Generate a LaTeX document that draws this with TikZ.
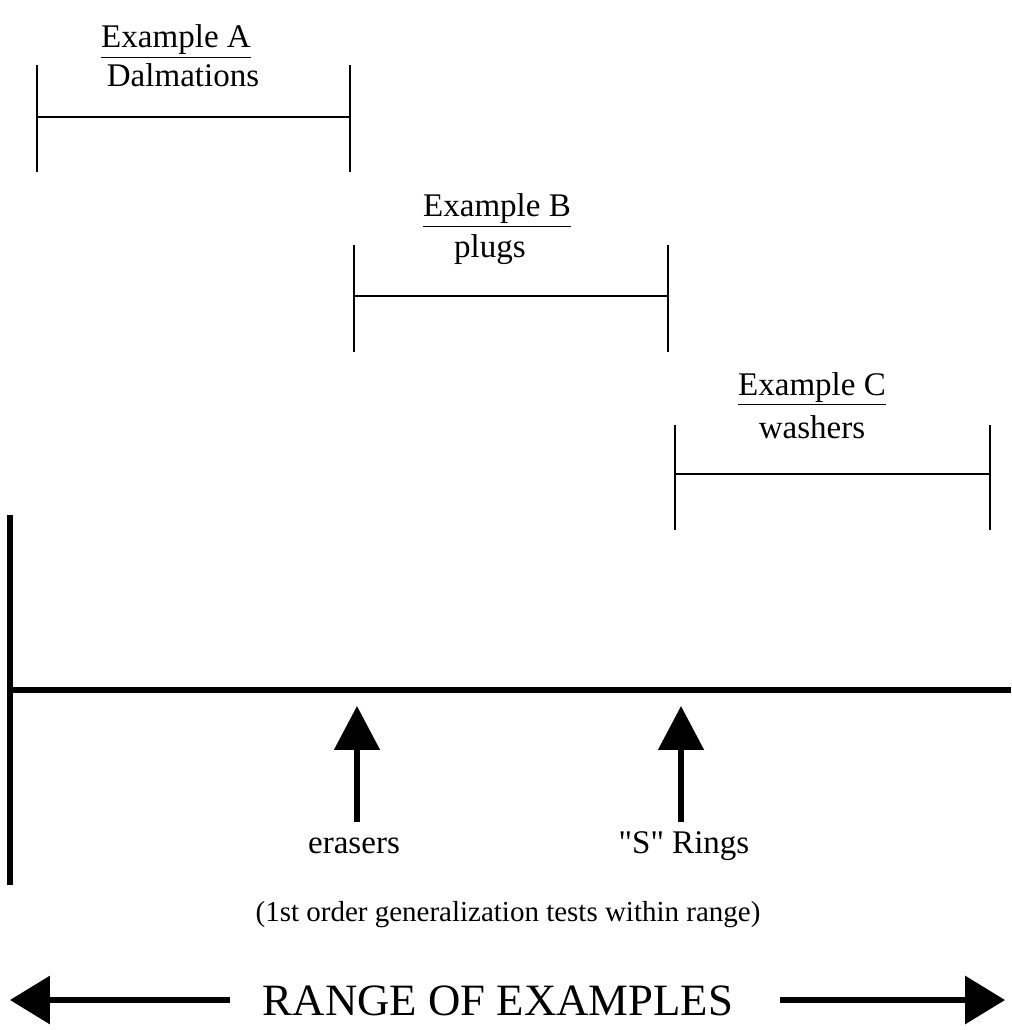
\documentclass[tikz,border=0pt]{standalone}
\usepackage{fontspec}
\setmainfont{Liberation Serif}
\newfontfamily\quotefont{Liberation Serif}[Ligatures=ResetAll]
\usetikzlibrary{arrows.meta,positioning}

\begin{document}
\begin{tikzpicture}[
    x = 0.02cm,
    y = -0.02cm,
    >={Triangle[length=0.88cm, width=0.9cm]},
    bar/.style = {black, line width=1.2pt},
    axis/.style = {black, line width=2.9pt},
    pointer/.style = {->, black, line width=2.9pt},
    label/.style = {anchor=base, inner sep=0pt, font=\fontsize{18.8}{22}\selectfont},
    note/.style = {anchor=base, inner sep=0pt, font=\fontsize{16.5}{20}\selectfont},
    big/.style = {anchor=base, inner sep=0pt, font=\fontsize{25.5}{30}\selectfont},
    ]

\useasboundingbox (0,0) rectangle (1011,1030);

% example A
\coordinate (a_tl) at (37,65);  \coordinate (a_bl) at (37,172);
\coordinate (a_tr) at (350,65); \coordinate (a_br) at (350,172);
\coordinate (a_ml) at (37,117); \coordinate (a_mr) at (350,117);
\draw [bar] (a_tl) -- (a_bl);
\draw [bar] (a_tr) -- (a_br);
\draw [bar] (a_ml) -- (a_mr);
\node [label] (name_a) at (176,48) {\underline{Example A}};
\node [label] (dog_a) at (183,87) {Dalmations};

% example B
\coordinate (b_tl) at (354,245); \coordinate (b_bl) at (354,352);
\coordinate (b_tr) at (668,245); \coordinate (b_br) at (668,352);
\coordinate (b_ml) at (354,296); \coordinate (b_mr) at (668,296);
\draw [bar] (b_tl) -- (b_bl);
\draw [bar] (b_tr) -- (b_br);
\draw [bar] (b_ml) -- (b_mr);
\node [label] (name_b) at (497,217) {\underline{Example B}};
\node [label] (plug_b) at (490,257) {plugs};

% example C
\coordinate (c_tl) at (675,425); \coordinate (c_bl) at (675,530);
\coordinate (c_tr) at (990,425); \coordinate (c_br) at (990,530);
\coordinate (c_ml) at (675,474); \coordinate (c_mr) at (990,474);
\draw [bar] (c_tl) -- (c_bl);
\draw [bar] (c_tr) -- (c_br);
\draw [bar] (c_ml) -- (c_mr);
\node [label] (name_c) at (812,395) {\underline{Example C}};
\node [label] (wash_c) at (812,438) {washers};

% range axis
\coordinate (axis_top) at (10,515);
\coordinate (axis_bot) at (10,885);
\coordinate (axis_org) at (10,690);
\coordinate (axis_end) at (1011,690);
\draw [axis] (axis_top) -- (axis_bot);
\draw [axis] (axis_org) -- (axis_end);

% test items
\coordinate (eraser_tail) at (357,822);
\coordinate (eraser_tip) at (357,706);
\coordinate (ring_tail) at (681,822);
\coordinate (ring_tip) at (681,706);
\draw [pointer] (eraser_tail) -- (eraser_tip);
\draw [pointer] (ring_tail) -- (ring_tip);
\node [label] (eraser) at (354,853) {erasers};
\node [label] (ring) at (684,853) {\quotefont "S" Rings};

\node [note] (tests) at (508,921) {(1st order generalization tests within range)};

% range of examples
\node [big] (range) at (498,1015) {RANGE OF EXAMPLES};
\coordinate (range_l0) at (230,1000);
\coordinate (range_l1) at (10,1000);
\coordinate (range_r0) at (780,1000);
\coordinate (range_r1) at (1005,1000);
\draw [pointer, >={Triangle[length=0.8cm, width=0.95cm]}] (range_l0) -- (range_l1);
\draw [pointer, >={Triangle[length=0.8cm, width=0.95cm]}] (range_r0) -- (range_r1);

\end{tikzpicture}
\end{document}
